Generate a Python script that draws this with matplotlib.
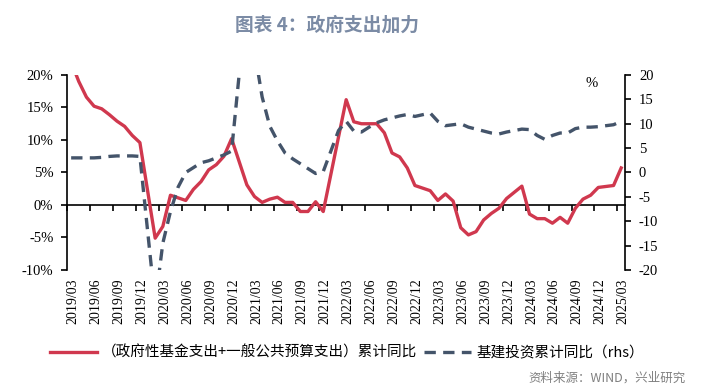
import numpy as np
import pandas as pd
import matplotlib
matplotlib.use("Agg")
import matplotlib.pyplot as plt
from matplotlib.lines import Line2D

plt.rcParams['font.family'] = ['Noto Sans CJK SC', 'DejaVu Sans']
plt.rcParams['axes.unicode_minus'] = False

# monthly categories 2019/03 .. 2025/03 (Jan has no data point)
months = pd.period_range("2019-03", "2025-03", freq="M")

# (政府性基金支出+一般公共预算支出)累计同比, %
spend_yoy = (
    [22.0, 19.0, 16.6, 15.2, 14.8, 13.9, 12.9, 12.1, 10.7, 9.6]
    + [None, -5.1, -3.3, 1.5, 1.1, 0.7, 2.4, 3.6, 5.4, 6.2, 7.5, 10.2]
    + [None, 3.1, 1.3, 0.4, 0.9, 1.2, 0.4, 0.4, -1.0, -1.0, 0.5, -1.0]
    + [None, None, 16.2, 12.8, 12.5, 12.5, 12.5, 11.1, 8.0, 7.4, 5.7, 3.0]
    + [None, 2.2, 0.7, 1.7, 0.6, -3.5, -4.6, -4.1, -2.3, -1.3, -0.5, 1.0]
    + [None, 2.9, -1.4, -2.1, -2.1, -2.8, -1.9, -2.8, -0.5, 0.9, 1.5, 2.7]
    + [None, 3.0, 5.7]
)

# 基建投资累计同比 (rhs), %
infra_yoy = (
    [3.0, 3.0, 3.0, 3.0, 3.1, 3.3, 3.4, 3.4, 3.4, 3.3]
    + [None, -27.0, -14.5, -8.0, -3.0, 0.0, 1.0, 2.0, 2.4, 3.0, 3.6, 4.4]
    + [None, 36.0, 25.0, 15.5, 9.5, 6.5, 4.0, 2.8, 1.8, 0.8, -0.2, 0.2]
    + [None, 8.6, 10.5, 8.5, 8.3, 9.3, 10.2, 10.8, 11.2, 11.6, 11.9, 11.5]
    + [None, 12.2, 10.5, 9.6, 9.8, 10.0, 9.3, 8.9, 8.5, 8.1, 7.9, 8.3]
    + [None, 8.9, 8.8, 7.6, 6.8, 7.6, 8.1, 8.1, 9.0, 9.3, 9.3, 9.4]
    + [None, 9.8, 10.5]
)

tick_labels = [m.strftime("%Y/%m") for m in months[::3]]

red = "#d0384e"
navy = "#44546a"
serif = "Liberation Serif"

df = pd.DataFrame({"spend": spend_yoy, "infra": infra_yoy}, dtype=float)
df["x"] = np.arange(len(months)) + 0.5
s1 = df.dropna(subset=["spend"])
s2 = df.dropna(subset=["infra"])

fig = plt.figure(figsize=(7.17, 3.9), dpi=100)
ax = fig.add_axes([0.0939, 0.3077, 0.7778, 0.5])
ax2 = ax.twinx()

ax.plot(s1["x"], s1["spend"], color=red, lw=2.4, zorder=3)
ax2.plot(s2["x"], s2["infra"], color=navy, lw=2.4, dashes=(3.4, 2.2))

ax.set_xlim(0, len(months))
ax.set_ylim(-10, 20)
ax2.set_ylim(-20, 20)

ax.set_yticks(np.arange(-10, 21, 5))
ax.set_yticklabels([f"{v}%" for v in range(-10, 21, 5)], fontfamily=serif, fontsize=10.5)
ax2.set_yticks(np.arange(-20, 21, 5))
ax2.set_yticklabels([str(v) for v in range(-20, 21, 5)], fontfamily=serif, fontsize=10.5)

# zero line acts as x axis
tick_pos = np.arange(0, len(months), 3)
ax.set_xticks(tick_pos)
ax.spines["bottom"].set_position(("data", 0))
ax.tick_params(axis="x", direction="out", length=4, width=1.2, labelbottom=False)
ax.tick_params(axis="y", direction="out", length=4, width=1.2, pad=6)
ax2.tick_params(axis="y", direction="out", length=4, width=1.2, pad=6)

sec = ax.secondary_xaxis(0.0)
sec.set_xticks(tick_pos + 0.75)
sec.set_xticklabels(tick_labels, rotation=90, fontfamily=serif, fontsize=10)
sec.tick_params(length=0, pad=6)
sec.spines["bottom"].set_visible(False)

for a in (ax, ax2):
    a.spines["top"].set_visible(False)
ax.spines["right"].set_visible(False)
ax2.spines["left"].set_visible(False)
ax2.spines["bottom"].set_visible(False)
for sp in (ax.spines["left"], ax.spines["bottom"], ax2.spines["right"]):
    sp.set_linewidth(1.2)

ax2.text(0.94, 0.955, "%", transform=ax.transAxes, fontfamily=serif,
         fontsize=10.5, ha="center", va="center")

fig.text(0.456, 0.936, "图表 4：政府支出加力", ha="center", va="center",
         fontsize=13.5, fontweight="bold", color="#7b8ba5")

handles = [Line2D([], [], color=red, lw=2.4),
           Line2D([], [], color=navy, lw=2.4, dashes=(3.4, 2.2))]
fig.legend(handles, ["（政府性基金支出+一般公共预算支出）累计同比", "基建投资累计同比（rhs）"],
           loc="center", bbox_to_anchor=(0.484, 0.095), ncol=2, frameon=False,
           fontsize=10.5, handlelength=3.2, handletextpad=0.35, columnspacing=0.5)

fig.text(0.956, 0.031, "资料来源：WIND，兴业研究", ha="right", va="center",
         fontsize=9, color="#808080")

fig.savefig("out.png", dpi=100)
